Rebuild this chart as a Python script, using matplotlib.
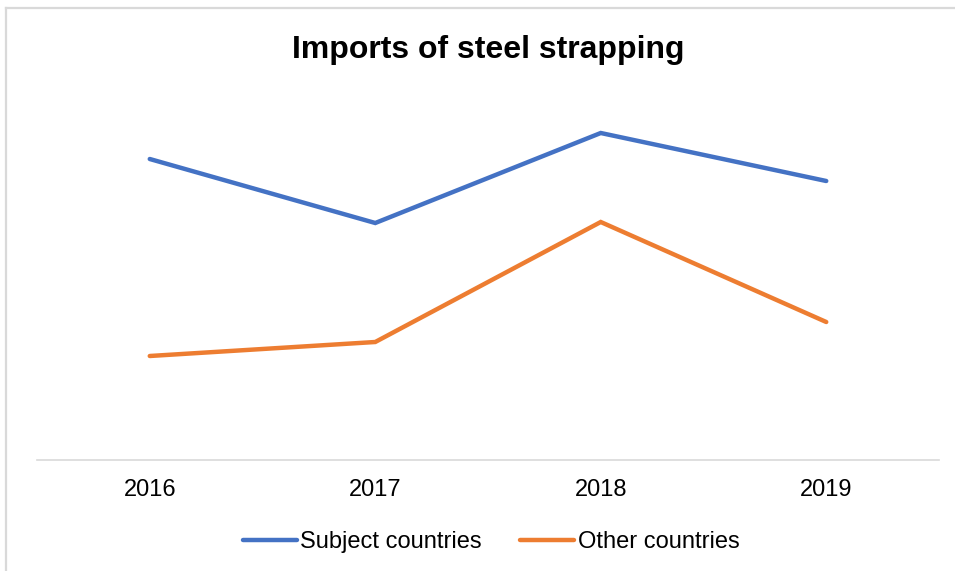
import matplotlib
matplotlib.use("Agg")
import matplotlib.pyplot as plt
from matplotlib.lines import Line2D

plt.rcParams['font.family'] = ['Liberation Sans', 'DejaVu Sans']

# Import volumes (index units, no axis scale shown)
years = ['2016', '2017', '2018', '2019']
subject_countries = [301, 237, 327, 279]
other_countries = [104, 118, 238, 138]

BLUE = '#4472C4'
ORANGE = '#ED7D31'
GRID = '#D9D9D9'

W, H = 955, 571
fig = plt.figure(figsize=(W / 100, H / 100), dpi=100)

# plot area in pixel terms
left, right, top, bottom = 37, 939, 95, 460
ax = fig.add_axes([left / W, 1 - bottom / H, (right - left) / W, (bottom - top) / H])

x = range(len(years))
ax.plot(x, subject_countries, color=BLUE, lw=3.2, solid_capstyle='round',
        solid_joinstyle='miter', label='Subject countries')
ax.plot(x, other_countries, color=ORANGE, lw=3.2, solid_capstyle='round',
        solid_joinstyle='miter', label='Other countries')

ax.set_xlim(-0.5, len(years) - 0.5)
ax.set_ylim(0, 365)
ax.set_xticks(list(x))
ax.set_xticklabels(years, fontsize=17, color='#000000')
ax.tick_params(axis='x', length=0, pad=14)
ax.set_yticks([])
for side in ['top', 'left', 'right']:
    ax.spines[side].set_visible(False)
ax.spines['bottom'].set_color(GRID)
ax.spines['bottom'].set_linewidth(1.2)

fig.text(488 / W, 1 - 58 / H, 'Imports of steel strapping', ha='center',
         va='baseline', fontsize=23, fontweight='bold')

fig.legend(loc='center', bbox_to_anchor=(491 / W, 1 - 542 / H), ncol=2,
           frameon=False, fontsize=17, handlelength=2.3, handletextpad=0.15,
           columnspacing=1.6, borderaxespad=0)

# outer chart border (only top and left edges fall inside the image)
fig.add_artist(Line2D([6 / W, 1], [1 - 8 / H, 1 - 8 / H], color=GRID, lw=1.6,
                      transform=fig.transFigure))
fig.add_artist(Line2D([6 / W, 6 / W], [0, 1 - 8 / H], color=GRID, lw=1.6,
                      transform=fig.transFigure))

fig.savefig('out.png', dpi=100, facecolor='white')
